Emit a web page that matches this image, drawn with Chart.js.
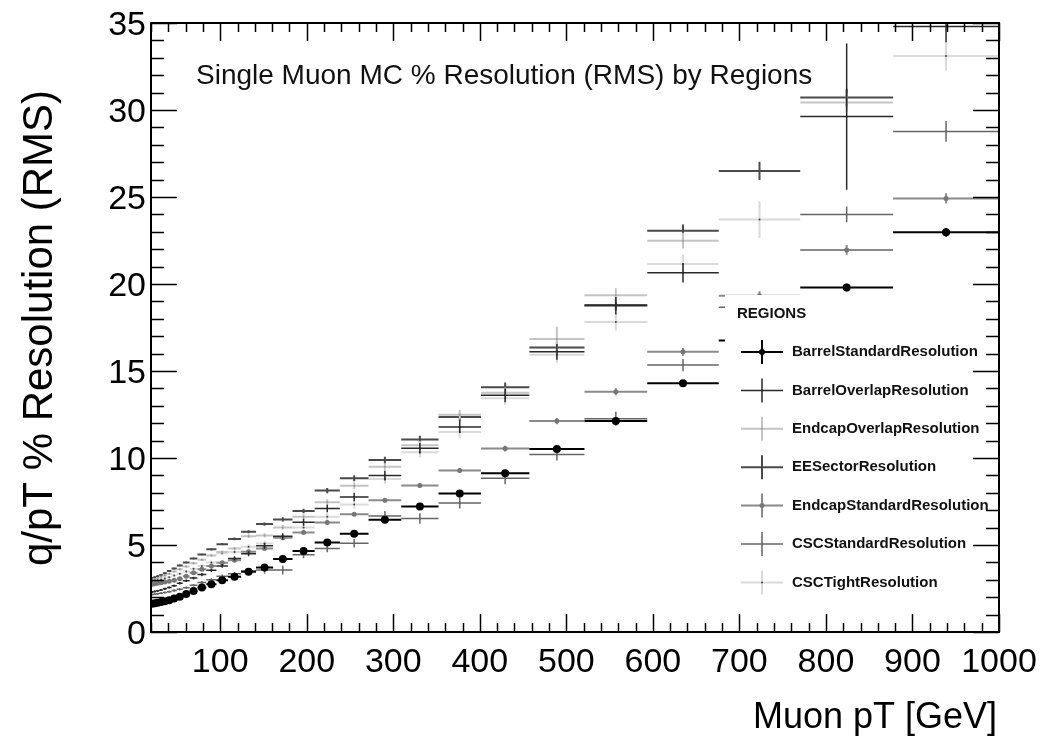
<!DOCTYPE html>
<html>
<head>
<meta charset="UTF-8">
<title>Single Muon MC % Resolution (RMS) by Regions</title>
<script src="https://cdn.jsdelivr.net/npm/chart.js"></script>
<style>
  html, body { margin: 0; padding: 0; background: #fff; }
  #wrap { width: 1046px; height: 736px; }
</style>
</head>
<body>
<div id="wrap"><canvas id="resChart" width="1046" height="736"></canvas></div>
<script>
// bin edges in Muon pT [GeV] (30 log-spaced bins from 20 to 1000)
const binEdges = [20, 22.79, 25.96, 29.57, 33.69, 38.39, 43.73, 49.82, 56.76, 64.67, 73.68,
  83.94, 95.63, 108.95, 124.12, 141.41, 161.10, 183.54, 209.11, 238.23, 271.41,
  309.21, 352.28, 401.34, 457.24, 520.93, 593.48, 676.14, 770.31, 877.60, 1000];

const xTickLabels = [100, 200, 300, 400, 500, 600, 700, 800, 900, 1000];
const yTickLabels = [0, 5, 10, 15, 20, 25, 30, 35];

// % resolution (RMS) per bin, null = not visible in the plot
const barrelStandard = [1.62, 1.65, 1.68, 1.72, 1.77, 1.83, 1.92, 2.02, 2.18, 2.36, 2.56, 2.74, 2.98, 3.17, 3.46,
  3.71, 4.20, 4.66, 5.14, 5.64, 6.45, 7.21, 7.96, 9.12, 10.52, 12.12, 14.29, 16.75, 19.80, 22.97];
const barrelOverlap = [2.30, 2.33, 2.37, 2.42, 2.48, 2.56, 2.66, 2.80, 2.95, 3.10, 3.30, 3.55, 3.80, 4.23, 4.50,
  4.95, 5.50, 6.31, 7.10, 7.76, 8.99, 10.56, 11.78, 13.60, 16.10, 18.75, 20.64, null, 29.62, 34.80];
const endcapOverlap = [3.00, 3.05, 3.10, 3.17, 3.25, 3.35, 3.47, 3.60, 3.76, 3.95, 4.15, 4.40, 4.60, 4.80, 5.51,
  5.55, 6.01, 6.62, 7.46, 8.40, 9.49, 10.73, 12.49, 13.75, 16.84, 19.35, 22.49, null, 30.43, null];
const eeSector = [3.10, 3.15, 3.20, 3.28, 3.38, 3.50, 3.65, 3.82, 4.00, 4.22, 4.45, 4.75, 5.05, 5.35, 5.76,
  6.20, 6.47, 6.96, 8.13, 8.84, 9.88, 11.07, 12.35, 14.07, 16.35, 18.80, 23.06, 26.50, 30.72, null];
const endcapStandard = [2.75, 2.77, 2.80, 2.83, 2.87, 2.92, 2.98, 3.06, 3.20, 3.40, 3.60, 3.79, 3.98, 4.13, 4.61,
  4.80, 5.41, 5.72, 6.29, 6.77, 7.57, 8.42, 9.28, 10.54, 12.12, 13.81, 16.10, 19.33, 21.96, 24.92];
const cscStandard = [2.15, 2.17, 2.20, 2.23, 2.27, 2.32, 2.38, 2.45, 2.55, 2.68, 2.85, 3.00, 3.20, 3.35, 3.50,
  3.56, 3.56, 4.44, 4.80, 5.10, 6.67, 6.52, 7.42, 8.84, 10.20, 12.26, 15.34, 18.66, 24.00, 28.77];
const cscTight = [2.90, 2.93, 2.97, 3.02, 3.08, 3.15, 3.24, 3.35, 3.48, 3.63, 3.80, 4.00, 4.53, 4.60, 4.90,
  5.09, 5.45, 6.01, 6.62, 7.33, 8.80, 10.33, 11.49, 13.44, 15.93, 17.82, 21.15, 23.70, null, 33.10];

// errors on the resolution
const barrelStandardErr = [0.02, 0.02, 0.02, 0.02, 0.02, 0.02, 0.02, 0.03, 0.03, 0.03, 0.03, 0.04, 0.04, 0.04, 0.05,
  0.05, 0.06, 0.07, 0.08, 0.08, 0.09, 0.10, 0.11, 0.12, 0.14, 0.16, 0.18, 0.20, 0.22, 0.25];
const barrelOverlapErr = [0.05, 0.05, 0.05, 0.05, 0.06, 0.06, 0.06, 0.07, 0.07, 0.08, 0.09, 0.10, 0.11, 0.12, 0.14,
  0.16, 0.18, 0.20, 0.22, 0.25, 0.28, 0.30, 0.35, 0.40, 0.45, 0.50, 0.55, 0.60, 4.20, 0.90];
const endcapOverlapErr = [0.04, 0.04, 0.04, 0.05, 0.05, 0.05, 0.05, 0.06, 0.06, 0.07, 0.07, 0.08, 0.09, 0.10, 0.11,
  0.12, 0.14, 0.15, 0.17, 0.19, 0.21, 0.24, 0.27, 0.30, 0.70, 0.40, 0.45, 0.60, 0.55, 0.80];
const eeSectorErr = [0.03, 0.03, 0.03, 0.03, 0.04, 0.04, 0.04, 0.05, 0.05, 0.05, 0.06, 0.07, 0.07, 0.08, 0.09,
  0.10, 0.12, 0.13, 0.15, 0.17, 0.19, 0.21, 0.24, 0.27, 0.30, 0.33, 0.36, 0.53, 0.50, 0.70];
const endcapStandardErr = [0.03, 0.03, 0.03, 0.03, 0.03, 0.03, 0.04, 0.04, 0.04, 0.04, 0.05, 0.05, 0.05, 0.06, 0.06,
  0.07, 0.08, 0.09, 0.10, 0.11, 0.12, 0.13, 0.14, 0.16, 0.18, 0.20, 0.22, 0.25, 0.28, 0.30];
const cscStandardErr = [0.04, 0.04, 0.04, 0.05, 0.05, 0.05, 0.06, 0.06, 0.07, 0.07, 0.08, 0.09, 0.10, 0.11, 0.13,
  0.20, 0.25, 0.20, 0.22, 0.25, 0.28, 0.30, 0.32, 0.35, 0.35, 0.40, 0.35, 0.45, 0.45, 0.60];
const cscTightErr = [0.05, 0.05, 0.05, 0.05, 0.06, 0.06, 0.06, 0.07, 0.07, 0.08, 0.09, 0.10, 0.11, 0.12, 0.14,
  0.16, 0.18, 0.20, 0.22, 0.25, 0.28, 0.30, 0.35, 0.40, 0.45, 0.50, 0.55, 1.06, 0.80, 0.85];

const series = [
  { name: 'BarrelStandardResolution', vals: barrelStandard, errs: barrelStandardErr, color: '#000000', width: 2, dot: '#000000', r: 4 },
  { name: 'BarrelOverlapResolution', vals: barrelOverlap, errs: barrelOverlapErr, color: '#2a2a2a', width: 1.5, dot: '#2a2a2a', r: 1 },
  { name: 'EndcapOverlapResolution', vals: endcapOverlap, errs: endcapOverlapErr, color: '#c4c4c4', width: 2, dot: '#999999', r: 1 },
  { name: 'EESectorResolution', vals: eeSector, errs: eeSectorErr, color: '#4a4a4a', width: 2, dot: '#4a4a4a', r: 1 },
  { name: 'EndcapStandardResolution', vals: endcapStandard, errs: endcapStandardErr, color: '#8a8a8a', width: 2, dot: '#777777', r: 2.5 },
  { name: 'CSCStandardResolution', vals: cscStandard, errs: cscStandardErr, color: '#666666', width: 1.5, dot: '#666666', r: 1 },
  { name: 'CSCTightResolution', vals: cscTight, errs: cscTightErr, color: '#dadada', width: 2, dot: '#444444', r: 1 }
];

const FONT = "'Liberation Sans', Arial, Helvetica, sans-serif";

// horizontal bin line + vertical error bar, broken with null points
function segments(vals, errs) {
  const pts = [];
  vals.forEach((v, i) => {
    if (v === null) return;
    const lo = binEdges[i], hi = binEdges[i + 1], mid = (lo + hi) / 2;
    pts.push({ x: lo, y: v }, { x: hi, y: v }, { x: hi, y: null });
    pts.push({ x: mid, y: v - errs[i] }, { x: mid, y: v + errs[i] }, { x: mid, y: null });
  });
  return pts;
}

function markers(vals) {
  const pts = [];
  vals.forEach((v, i) => {
    if (v === null) return;
    pts.push({ x: (binEdges[i] + binEdges[i + 1]) / 2, y: v });
  });
  return pts;
}

const datasets = [];
series.forEach(s => {
  datasets.push({
    label: s.name + ' marker', data: markers(s.vals), showLine: false,
    pointRadius: s.r, pointBackgroundColor: s.dot, pointBorderWidth: 0, pointHoverRadius: 0
  });
  datasets.push({
    label: s.name, data: segments(s.vals, s.errs), showLine: true, spanGaps: false,
    borderColor: s.color, borderWidth: s.width, pointRadius: 0, pointHoverRadius: 0
  });
});

// legend box drawn inside the frame, on white
const regionsLegend = {
  id: 'regionsLegend',
  afterDatasetsDraw(chart) {
    const ctx = chart.ctx;
    ctx.save();
    ctx.fillStyle = '#ffffff';
    ctx.fillRect(725, 295, 262, 308);
    ctx.fillStyle = '#111';
    ctx.font = 'bold 15px ' + FONT;
    ctx.textBaseline = 'middle';
    ctx.fillText('REGIONS', 737, 314);
    series.forEach((s, i) => {
      const cy = 352 + i * 38.4;
      ctx.strokeStyle = s.color;
      ctx.lineWidth = s.width;
      ctx.beginPath();
      ctx.moveTo(741, cy); ctx.lineTo(783, cy);
      ctx.moveTo(762, cy - 12); ctx.lineTo(762, cy + 12);
      ctx.stroke();
      ctx.fillStyle = s.dot;
      ctx.beginPath();
      ctx.arc(762, cy, Math.min(s.r, 3), 0, Math.PI * 2);
      ctx.fill();
      ctx.fillStyle = '#111';
      ctx.fillText(s.name, 792, cy);
    });
    ctx.restore();
  }
};

// ROOT style frame, inward ticks, labels and titles
const rootFrame = {
  id: 'rootFrame',
  afterDraw(chart) {
    const { ctx, chartArea: a, scales: { x, y } } = chart;
    ctx.save();
    ctx.strokeStyle = '#000';
    ctx.lineWidth = 1.5;
    ctx.beginPath();
    for (let v = 20; v <= 1000; v += 20) {
      const px = Math.round(x.getPixelForValue(v)) + 0.5;
      const len = v % 100 === 0 ? 18 : 9;
      ctx.moveTo(px, a.bottom); ctx.lineTo(px, a.bottom - len);
      ctx.moveTo(px, a.top); ctx.lineTo(px, a.top + len);
    }
    for (let v = 0; v <= 35; v += 1) {
      const py = Math.round(y.getPixelForValue(v)) + 0.5;
      const len = v % 5 === 0 ? 26 : 13;
      ctx.moveTo(a.left, py); ctx.lineTo(a.left + len, py);
      ctx.moveTo(a.right, py); ctx.lineTo(a.right - len, py);
    }
    ctx.stroke();
    ctx.lineWidth = 2;
    ctx.strokeRect(a.left, a.top, a.right - a.left, a.bottom - a.top);

    ctx.fillStyle = '#000';
    ctx.font = '34px ' + FONT;
    ctx.textBaseline = 'alphabetic';
    ctx.textAlign = 'center';
    xTickLabels.forEach(v => ctx.fillText(String(v), x.getPixelForValue(v), 672));
    ctx.textAlign = 'right';
    yTickLabels.forEach(v => ctx.fillText(String(v), 146, y.getPixelForValue(v) + 12));

    ctx.textAlign = 'right';
    ctx.font = '36px ' + FONT;
    ctx.fillText('Muon pT [GeV]', 997, 728);

    ctx.save();
    ctx.translate(52, 328);
    ctx.rotate(-Math.PI / 2);
    ctx.textAlign = 'center';
    ctx.font = '42px ' + FONT;
    ctx.fillText('q/pT % Resolution (RMS)', 0, 0);
    ctx.restore();

    ctx.textAlign = 'left';
    ctx.font = '28px ' + FONT;
    ctx.fillStyle = '#111';
    ctx.fillText('Single Muon MC % Resolution (RMS) by Regions', 196, 84);
    ctx.restore();
  }
};

new Chart(document.getElementById('resChart'), {
  type: 'scatter',
  data: { datasets: datasets },
  options: {
    responsive: false,
    animation: false,
    layout: { padding: { left: 151, right: 47, top: 23, bottom: 104 } },
    scales: {
      x: { type: 'linear', min: 20, max: 1000, display: false },
      y: { type: 'linear', min: 0, max: 35, display: false }
    },
    plugins: { legend: { display: false }, tooltip: { enabled: false } }
  },
  plugins: [regionsLegend, rootFrame]
});
</script>
</body>
</html>
